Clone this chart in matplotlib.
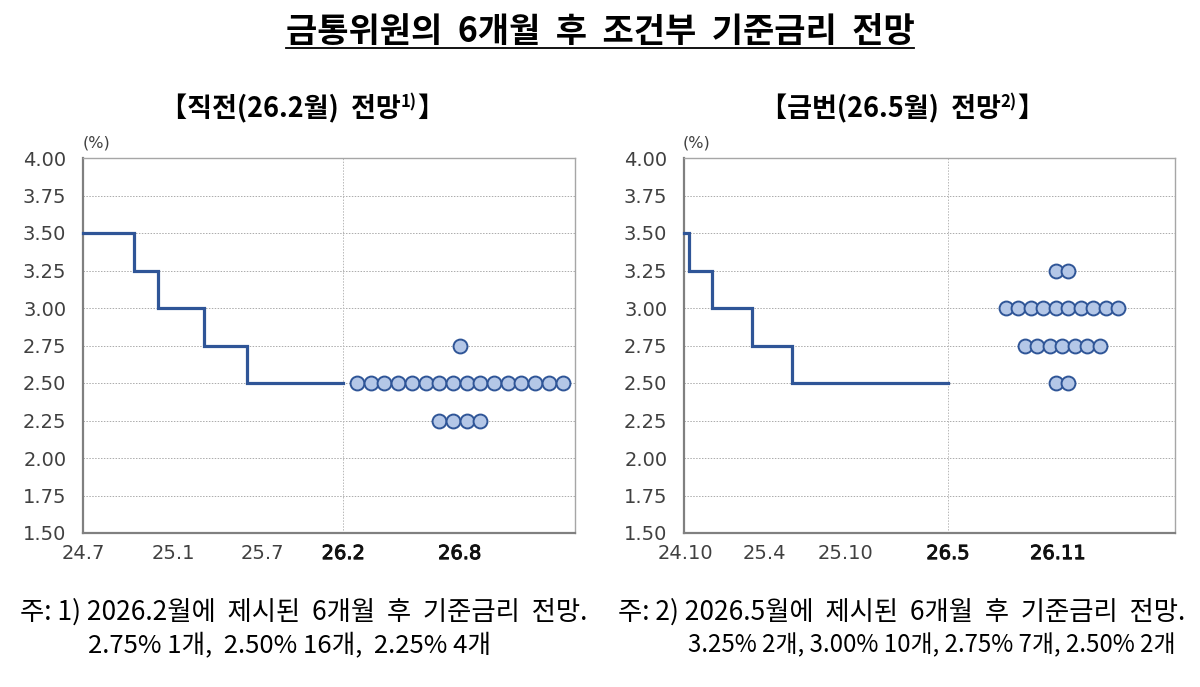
import numpy as np
import matplotlib
matplotlib.use('Agg')
import matplotlib.pyplot as plt
import matplotlib.patheffects as pe
from matplotlib.lines import Line2D

plt.rcParams['font.family'] = ['Noto Sans CJK KR', 'DejaVu Sans']

# 직전(26.2월) 전망 : x는 24.7 기준 개월 수
prev_step_x = [0, 3.72, 5.47, 8.83, 11.97, 19.0]
prev_step_y = [3.50, 3.25, 3.00, 2.75, 2.50, 2.50]
prev_dot_rates = [2.75, 2.50, 2.25]
prev_dot_counts = [1, 16, 4]
prev_dot_center = 27.5
prev_dot_gap = 1.0
prev_ticks = [0.0, 6.57, 13.07, 19.0, 27.5]
prev_ticklabels = ['24.7', '25.1', '25.7', '26.2', '26.8']

# 금번(26.5월) 전망 : x는 24.10 기준 개월 수
cur_step_x = [0, 0.39, 2.01, 4.89, 7.77, 19.0]
cur_step_y = [3.50, 3.25, 3.00, 2.75, 2.50, 2.50]
cur_dot_rates = [3.25, 3.00, 2.75, 2.50]
cur_dot_counts = [2, 10, 7, 2]
cur_dot_center = 27.2
cur_dot_gap = 0.9
cur_ticks = [0.07, 5.8, 11.6, 19.0, 26.9]
cur_ticklabels = ['24.10', '25.4', '25.10', '26.5', '26.11']

y_ticks = [1.50, 1.75, 2.00, 2.25, 2.50, 2.75, 3.00, 3.25, 3.50, 3.75, 4.00]

LINE_C = '#2F5597'
DOT_FC = '#B4C7E7'
GRID_C = '#ababab'


def draw_panel(ax, step_x, step_y, rates, counts, center, gap, ticks, labels, xmax):
    ax.plot(step_x, step_y, drawstyle='steps-post', color=LINE_C, lw=2.3,
            solid_joinstyle='miter', clip_on=False, zorder=3)
    for r, n in zip(rates, counts):
        xs = center + (np.arange(n) - (n - 1) / 2) * gap
        ax.plot(xs, [r] * n, 'o', ms=10, mfc=DOT_FC, mec=LINE_C, mew=1.4,
                zorder=4, clip_on=False)
    ax.set_xlim(0, xmax)
    ax.set_ylim(1.5, 4.0)
    ax.set_yticks(y_ticks)
    ax.set_yticklabels(['%.2f' % v for v in y_ticks], family='DejaVu Sans',
                       fontsize=14, color='#404040')
    ax.set_xticks(ticks)
    ax.set_xticklabels(labels, family='DejaVu Sans', fontsize=14)
    for i, t in enumerate(ax.get_xticklabels()):
        if i >= 3:
            # 현재/전망 시점은 진하게
            t.set_color('#111111')
            t.set_path_effects([pe.withStroke(linewidth=0.7, foreground='#111111')])
        else:
            t.set_color('#404040')
    ax.tick_params(length=0)
    ax.tick_params(axis='y', pad=12)
    ax.tick_params(axis='x', pad=8)
    for v in y_ticks[1:-1]:
        ax.axhline(v, color=GRID_C, lw=0.7, ls=(0, (1.5, 1.5)), zorder=1)
    ax.axvline(19.0, color='#b8b8b8', lw=0.7, ls=(0, (1.5, 1.5)), zorder=1)
    ax.spines['left'].set_color('#808080')
    ax.spines['bottom'].set_color('#808080')
    ax.spines['left'].set_linewidth(1.6)
    ax.spines['bottom'].set_linewidth(1.6)
    ax.spines['top'].set_color('#a6a6a6')
    ax.spines['right'].set_color('#a6a6a6')
    ax.spines['top'].set_linewidth(1.0)
    ax.spines['right'].set_linewidth(1.0)


def seq_text(fig, xc, y, parts):
    # parts: (글자, 크기, 위로 올림 px)
    r = fig.canvas.get_renderer()
    W = fig.get_figwidth() * fig.dpi
    H = fig.get_figheight() * fig.dpi
    objs = []
    for s, size, dy in parts:
        t = fig.text(0, y + dy / H, s, fontsize=size, fontweight='bold',
                     va='baseline', ha='left')
        objs.append(t)
    widths = [t.get_window_extent(r).width / W for t in objs]
    x = xc - sum(widths) / 2
    for t, w in zip(objs, widths):
        t.set_x(x)
        x += w


fig = plt.figure(figsize=(12, 6.87), dpi=100)
ax1 = fig.add_axes([83 / 1200, 1 - 533 / 687, 492 / 1200, 375 / 687])
ax2 = fig.add_axes([684 / 1200, 1 - 533 / 687, 491 / 1200, 375 / 687])

draw_panel(ax1, prev_step_x, prev_step_y, prev_dot_rates, prev_dot_counts,
           prev_dot_center, prev_dot_gap, prev_ticks, prev_ticklabels, 492 / 13.7)
draw_panel(ax2, cur_step_x, cur_step_y, cur_dot_rates, cur_dot_counts,
           cur_dot_center, cur_dot_gap, cur_ticks, cur_ticklabels, 491 / 13.9)

fig.text(96 / 1200, 1 - 143 / 687, '(%)', fontsize=11.5, color='#404040',
         ha='center', va='center', family='DejaVu Sans')
fig.text(696 / 1200, 1 - 143 / 687, '(%)', fontsize=11.5, color='#404040',
         ha='center', va='center', family='DejaVu Sans')

# 제목
title = fig.text(0.5, 1 - 42 / 687, '금통위원의  6개월  후  조건부  기준금리  전망',
                 fontsize=24.5, fontweight='bold', ha='center', va='baseline')
fig.canvas.draw()
bb = title.get_window_extent(fig.canvas.get_renderer())
fig.add_artist(Line2D([bb.x0 / 1200, bb.x1 / 1200], [1 - 48 / 687] * 2,
                      color='black', lw=1.3, transform=fig.transFigure))

seq_text(fig, 302 / 1200, 1 - 117 / 687,
         [('【직전(26.2월)  전망', 19.5, 0), ('1)', 12, 10), ('】', 19.5, 0)])
seq_text(fig, 902 / 1200, 1 - 117 / 687,
         [('【금번(26.5월)  전망', 19.5, 0), ('2)', 12, 10), ('】', 19.5, 0)])

# 주석
fig.text(20 / 1200, 1 - 612 / 687, '주: 1) 2026.2월에  제시된  6개월  후  기준금리  전망.',
         fontsize=19, va='center', ha='left')
fig.text(88 / 1200, 1 - 645 / 687, '2.75% 1개,  2.50% 16개,  2.25% 4개',
         fontsize=18.5, va='center', ha='left')
fig.text(618 / 1200, 1 - 612 / 687, '주: 2) 2026.5월에  제시된  6개월  후  기준금리  전망.',
         fontsize=19, va='center', ha='left')
fig.text(688 / 1200, 1 - 645 / 687, '3.25% 2개, 3.00% 10개, 2.75% 7개, 2.50% 2개',
         fontsize=17.3, va='center', ha='left')

fig.savefig('out.png', dpi=100)
